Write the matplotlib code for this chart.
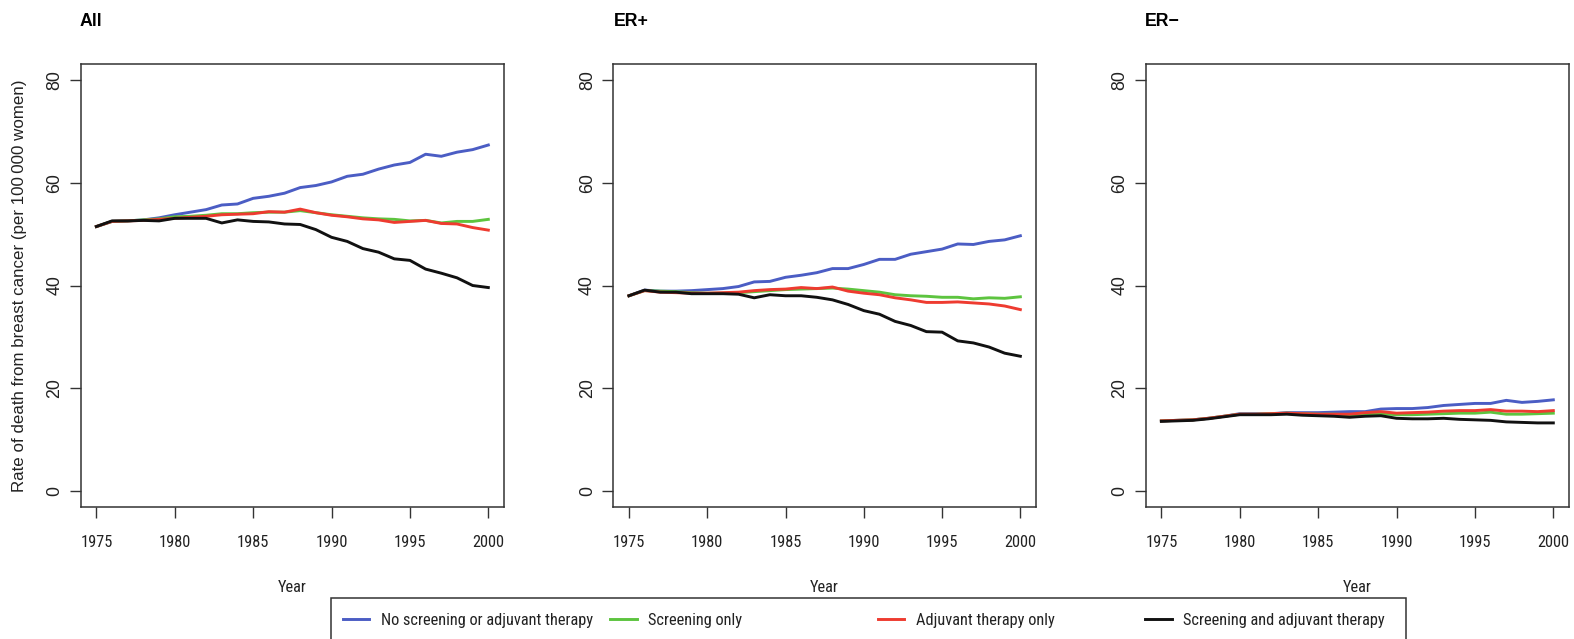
import matplotlib
matplotlib.use("Agg")
import matplotlib.pyplot as plt
from matplotlib import font_manager
from matplotlib.font_manager import FontProperties
from matplotlib.textpath import TextPath
from matplotlib.patches import Rectangle

years = list(range(1975, 2001))

# Panel "All"
all_none = [51.5, 52.5, 52.6, 52.8, 53.2, 53.8, 54.3, 54.8, 55.7, 55.9, 57.0, 57.4, 58.0,
            59.1, 59.5, 60.2, 61.3, 61.7, 62.7, 63.5, 64.0, 65.6, 65.2, 66.0, 66.5, 67.4]
all_screen = [51.5, 52.5, 52.6, 52.8, 53.0, 53.4, 53.5, 53.7, 54.0, 54.0, 54.2, 54.3, 54.3,
              54.6, 54.2, 53.8, 53.5, 53.2, 53.0, 52.9, 52.6, 52.7, 52.2, 52.5, 52.5, 52.9]
all_adjuv = [51.5, 52.5, 52.6, 52.7, 52.9, 53.1, 53.3, 53.5, 53.8, 53.9, 54.0, 54.4, 54.3,
             54.9, 54.2, 53.7, 53.4, 53.0, 52.8, 52.3, 52.5, 52.7, 52.1, 52.0, 51.3, 50.8]
all_both = [51.5, 52.6, 52.6, 52.7, 52.6, 53.1, 53.1, 53.1, 52.2, 52.8, 52.5, 52.4, 52.0,
            51.9, 50.9, 49.4, 48.6, 47.2, 46.5, 45.2, 44.9, 43.2, 42.4, 41.5, 40.0, 39.6]

# Panel "ER+"
erp_none = [38.0, 39.1, 38.9, 38.9, 39.0, 39.2, 39.4, 39.8, 40.7, 40.8, 41.6, 42.0, 42.5,
            43.3, 43.3, 44.1, 45.1, 45.1, 46.1, 46.6, 47.1, 48.1, 48.0, 48.6, 48.9, 49.7]
erp_screen = [38.0, 39.0, 38.9, 38.8, 38.6, 38.5, 38.5, 38.6, 38.8, 39.0, 39.2, 39.3, 39.4,
              39.5, 39.3, 39.0, 38.7, 38.2, 38.0, 37.9, 37.7, 37.7, 37.4, 37.6, 37.5, 37.8]
erp_adjuv = [38.0, 39.0, 38.7, 38.6, 38.5, 38.5, 38.6, 38.7, 39.0, 39.2, 39.3, 39.6, 39.4,
             39.7, 38.9, 38.5, 38.2, 37.6, 37.2, 36.7, 36.7, 36.8, 36.6, 36.4, 36.0, 35.3]
erp_both = [38.0, 39.1, 38.7, 38.7, 38.4, 38.4, 38.4, 38.3, 37.6, 38.2, 38.0, 38.0, 37.7,
            37.2, 36.3, 35.1, 34.4, 33.0, 32.2, 31.0, 30.9, 29.2, 28.8, 28.0, 26.8, 26.2]

# Panel "ER-"
ern_none = [13.6, 13.7, 13.8, 14.1, 14.5, 15.0, 15.0, 15.0, 15.2, 15.2, 15.2, 15.3, 15.4,
            15.4, 15.9, 16.0, 16.0, 16.2, 16.6, 16.8, 17.0, 17.0, 17.6, 17.2, 17.4, 17.7]
ern_screen = [13.6, 13.7, 13.8, 14.1, 14.5, 14.9, 14.9, 15.0, 15.1, 15.0, 14.9, 14.9, 14.8,
              14.9, 15.0, 14.8, 14.8, 14.9, 15.0, 15.1, 15.1, 15.3, 14.9, 14.9, 15.0, 15.1]
ern_adjuv = [13.6, 13.7, 13.8, 14.1, 14.5, 14.9, 14.9, 15.0, 15.1, 15.0, 14.9, 14.9, 14.9,
             15.2, 15.4, 15.1, 15.2, 15.3, 15.5, 15.6, 15.6, 15.8, 15.5, 15.5, 15.4, 15.6]
ern_both = [13.5, 13.6, 13.7, 14.0, 14.4, 14.8, 14.8, 14.8, 14.9, 14.7, 14.6, 14.5, 14.3,
            14.5, 14.6, 14.1, 14.0, 14.0, 14.1, 13.9, 13.8, 13.7, 13.4, 13.3, 13.2, 13.2]

panel_titles = ["All", "ER+", "ER\u2212"]
series_labels = ["No screening or adjuvant therapy", "Screening only",
                 "Adjuvant therapy only", "Screening and adjuvant therapy"]
y_ticks = [0, 20, 40, 60, 80]
x_ticks = [1975, 1980, 1985, 1990, 1995, 2000]
y_label = "Rate of death from breast cancer (per 100\u2009000 women)"
x_label = "Year"

panels = [
    [all_none, all_screen, all_adjuv, all_both],
    [erp_none, erp_screen, erp_adjuv, erp_both],
    [ern_none, ern_screen, ern_adjuv, ern_both],
]
colors = ["#4B5DC4", "#5DC43F", "#EE3B30", "#111111"]

# ---- fonts: prefer a condensed sans for horizontal text ----
def find_condensed():
    prefs = ["Liberation Sans Narrow", "Roboto Condensed", "Noto Sans", "Open Sans",
             "DejaVu Sans", "Arimo"]
    cands = []
    for f in font_manager.fontManager.ttflist:
        nm = f.name
        st = str(f.stretch)
        cond = ("Narrow" in nm or "Condensed" in nm or st in ("condensed", "semi-condensed")
                or "Condensed" in f.fname or "Narrow" in f.fname)
        if not cond or f.weight not in (400, "normal", "regular"):
            continue
        if "Italic" in f.fname or "Oblique" in f.fname or f.style != "normal":
            continue
        if "Extra" in f.fname or "Semi" in f.fname and "SemiCondensed" not in f.fname:
            pass
        rank = len(prefs)
        for i, p in enumerate(prefs):
            if nm.startswith(p):
                rank = i
                break
        cands.append((rank, f.fname))
    if cands:
        cands.sort()
        return FontProperties(fname=cands[0][1])
    return FontProperties(family="Liberation Sans")

hfont = find_condensed()

def fit_size(fp, s, target_px, max_pt):
    w = TextPath((0, 0), s, size=10, prop=fp).get_extents().width  # points at 10pt
    px = w * 100 / 72
    return min(max_pt, 10 * target_px / px)

hsize = fit_size(hfont, "1975", 30.5, 12.3)

def hprop(size=None):
    p = hfont.copy()
    p.set_size(size if size else hsize)
    return p

regular = "Liberation Sans"

W, H = 1574, 639
fig = plt.figure(figsize=(W / 100, H / 100), dpi=100)
fig.patch.set_facecolor("white")

lefts = [80.7, 613.3, 1145.7]
right_px = [504.0, 1036.0, 1569.0]
top_px, bot_px = 64.0, 507.0
title_x = [80.0, 614.0, 1145.0]

axes = []
for i, data in enumerate(panels):
    l = lefts[i] / W
    w = (right_px[i] - lefts[i]) / W
    b = 1 - bot_px / H
    h = (bot_px - top_px) / H
    ax = fig.add_axes([l, b, w, h])
    axes.append(ax)
    for vals, c in zip(data, colors):
        ax.plot(years, vals, color=c, lw=2.1, solid_joinstyle="round")
    ax.set_xlim(1974, 2001)
    ax.set_ylim(-3.2, 83.2)
    ax.set_xticks(x_ticks)
    ax.set_yticks(y_ticks)
    ax.set_xticklabels([str(t) for t in x_ticks], fontproperties=hprop(), color="#222222")
    ax.set_yticklabels([str(t) for t in y_ticks], fontfamily=regular, fontsize=12.8,
                       color="#222222", rotation=90, va="center")
    ax.tick_params(axis="both", direction="out", length=8.0, width=1.0, color="#333333")
    ax.tick_params(axis="x", pad=12)
    ax.tick_params(axis="y", pad=4.5)
    for sp in ax.spines.values():
        sp.set_color("#333333")
        sp.set_linewidth(1.1)
    fig.text(title_x[i] / W, 1 - 21 / H, panel_titles[i], fontfamily=regular,
             fontweight="bold", fontsize=12.8, ha="left", va="center")
    fig.text((lefts[i] + right_px[i]) / 2 / W, 1 - 587 / H, x_label,
             fontproperties=hprop(), ha="center", va="center", color="#222222")

fig.text(20 / W, 1 - 285.5 / H, y_label, fontfamily=regular, fontsize=12.2,
         rotation=90, ha="center", va="center", color="#222222")

# legend frame
fig.add_artist(Rectangle((331 / W, -20 / H), (1406 - 331) / W, (639 + 20 - 598) / H,
                         transform=fig.transFigure, fill=False, edgecolor="#333333",
                         linewidth=1.1))
handles = axes[0].get_lines()
lsize = hprop().get_size_in_points()
for k in range(4):
    x0 = 342.7 + k * 267.4
    fig.legend([handles[k]], [series_labels[k]], loc="center left",
               bbox_to_anchor=(x0 / W, 1 - 620.7 / H), borderaxespad=0, borderpad=0,
               handlelength=26.7 / (lsize * 100 / 72), handletextpad=11.7 / (lsize * 100 / 72),
               frameon=False, prop=hprop(), labelcolor="#222222")

fig.savefig("out.png", dpi=100, facecolor="white")
